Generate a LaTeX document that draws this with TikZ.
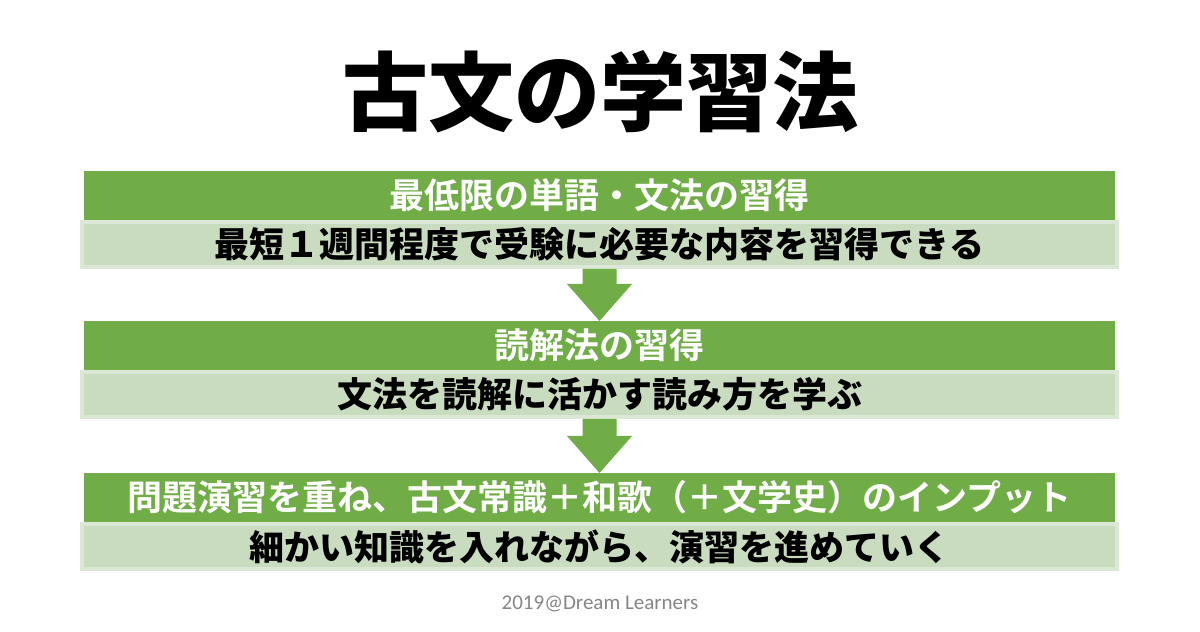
\documentclass[tikz,border=0pt]{standalone}
\usepackage{fontspec}
\newfontfamily\jpbold{Noto Sans CJK JP Bold}
\newfontfamily\jpblack{Noto Sans CJK JP Black}
\newfontfamily\creditfont{Carlito}
\usetikzlibrary{positioning, calc}
\definecolor{stepgreen}{HTML}{70AD47}
\definecolor{notegreen}{HTML}{C9DCC0}
\definecolor{noteedge}{HTML}{DCE8D6}
\definecolor{creditgray}{HTML}{868686}
\tikzset{
  stepband/.style={fill=stepgreen, text=white, minimum width=515.5pt, minimum height=24.5pt,
    inner sep=0pt, outer sep=0pt, font=\jpbold\fontsize{17.5pt}{20pt}\selectfont},
  noteband/.style={fill=notegreen, draw=noteedge, line width=2pt, minimum width=517.5pt,
    minimum height=22.5pt, inner sep=0pt, font=\jpblack\fontsize{17.5pt}{20pt}\selectfont}
}

\begin{document}
\begin{tikzpicture}[x=0.5pt, y=0.5pt]
      \fill[white] (0,0) rectangle (1200,632);
      \useasboundingbox (0,0) rectangle (1200,632);

      \node[font=\jpblack\fontsize{43pt}{46pt}\selectfont] (title) at (600,540) {古文の学習法};

      \node[stepband] (step1) at (599.5,436.5) {最低限の単語・文法の習得};
      \node[noteband, below=0pt of step1] (note1) {最短１週間程度で受験に必要な内容を習得できる};

      \node[stepband, below=26pt of note1] (step2) {読解法の習得};
      \node[noteband, below=0pt of step2] (note2) {文法を読解に活かす読み方を学ぶ};

      \node[stepband, below=27pt of note2] (step3) {問題演習を重ね、古文常識＋和歌（＋文学史）のインプット};
      \node[noteband, below=0pt of step3] (note3) {細かい知識を入れながら、演習を進めていく};

      \foreach \from/\to in {note1/step2, note2/step3}
        \fill[stepgreen] ($(\from.south)+(-17,0)$) -- ($(\from.south)+(17,0)$) -- ($(\to.north)+(17,37)$)
          -- ($(\to.north)+(32.5,37)$) -- (\to.north) -- ($(\to.north)+(-32.5,37)$) -- ($(\to.north)+(-17,37)$) -- cycle;

      \node[font=\creditfont\fontsize{10.5pt}{12pt}\selectfont, text=creditgray] (credit) at (600,28) {2019@Dream Learners};
\end{tikzpicture}
\end{document}
